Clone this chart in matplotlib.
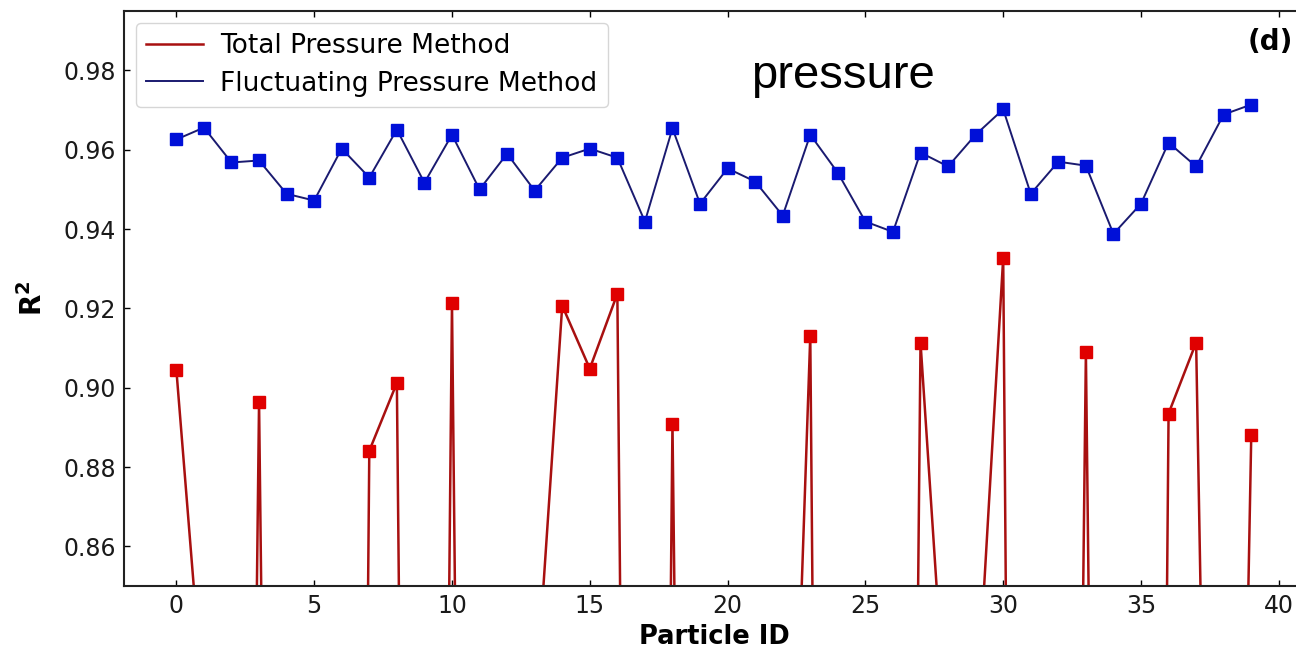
import matplotlib
matplotlib.use("Agg")
import matplotlib.pyplot as plt
import numpy as np

# Particle IDs 0..39
particle_id = list(range(40))

# R^2 of the fluctuating-pressure fit for each particle
r2_fluctuating = [
    0.9626, 0.9656, 0.9568, 0.9573, 0.9489, 0.9472, 0.9603, 0.9530, 0.9651, 0.9517,
    0.9638, 0.9500, 0.9590, 0.9497, 0.9580, 0.9603, 0.9580, 0.9419, 0.9654, 0.9464,
    0.9553, 0.9520, 0.9434, 0.9638, 0.9542, 0.9419, 0.9393, 0.9593, 0.9558, 0.9638,
    0.9702, 0.9489, 0.9570, 0.9560, 0.9388, 0.9464, 0.9618, 0.9558, 0.9689, 0.9714,
]

# R^2 of the total-pressure fit for each particle (many fall far below the axis range)
r2_total = [
    0.9045, 0.818, 0.30, 0.8964, 0.30, 0.25, 0.10, 0.8841, 0.9012, 0.20,
    0.9214, 0.25, 0.30, 0.817, 0.9207, 0.9048, 0.9237, 0.18, 0.8909, 0.30,
    0.40, 0.45, 0.71, 0.9131, 0.10, 0.40, 0.20, 0.9114, 0.806, 0.813,
    0.9328, 0.05, 0.30, 0.9089, 0.30, 0.10, 0.8935, 0.9114, 0.52, 0.888,
]

x_ticks = [0, 5, 10, 15, 20, 25, 30, 35, 40]
y_ticks = [0.86, 0.88, 0.90, 0.92, 0.94, 0.96, 0.98]

W, H = 1296, 649
fig = plt.figure(figsize=(W / 100, H / 100), dpi=100)
left_px, right_px, top_px, bottom_px = 124, 1305, 11, 586
ax = fig.add_axes([left_px / W, 1 - bottom_px / H,
                   (right_px - left_px) / W, (bottom_px - top_px) / H])

red_line = "#a81010"
red_mark = "#e00000"
blue_line = "#1a1a70"
blue_mark = "#0010d8"

ax.plot(particle_id, r2_total, color=red_line, lw=1.8, label="Total Pressure Method", zorder=2)
ax.plot(particle_id, r2_total, ls="none", marker="s", ms=8.5, color=red_mark, zorder=3)
ax.plot(particle_id, r2_fluctuating, color=blue_line, lw=1.4, label="Fluctuating Pressure Method", zorder=2)
ax.plot(particle_id, r2_fluctuating, ls="none", marker="s", ms=8.5, color=blue_mark, zorder=3)

ax.set_xlim(-1.9, 40.95)
ax.set_ylim(0.85, 0.995)
ax.set_xticks(x_ticks)
ax.set_yticks(y_ticks)
ax.set_yticklabels([f"{v:.2f}" for v in y_ticks])
ax.tick_params(axis="both", direction="in", length=4, width=1, labelsize=17,
               labelcolor="#1a1a1a", top=True, right=True, pad=6)

for s in ax.spines.values():
    s.set_linewidth(1.5)
    s.set_color("#222222")

ax.set_xlabel("Particle ID", fontsize=18.5, fontweight="bold", labelpad=4)
ax.set_ylabel(r"$\mathbf{R^2}$", fontsize=20, labelpad=11)

leg = ax.legend(loc="upper left", fontsize=19, frameon=True, handlelength=2.15,
                handletextpad=0.65, borderpad=0.4, labelspacing=0.42,
                borderaxespad=0.45, bbox_to_anchor=(0.0, 1.0))
leg.get_frame().set_edgecolor("#cccccc")

ax.text(0.609, 0.887, "pressure", transform=ax.transAxes, fontsize=34,
        family="Liberation Sans", ha="center", va="center")
ax.text(0.9517, 0.946, "(d)", transform=ax.transAxes, fontsize=20,
        fontweight="bold", ha="left", va="center")

fig.savefig("out.png", dpi=100)
